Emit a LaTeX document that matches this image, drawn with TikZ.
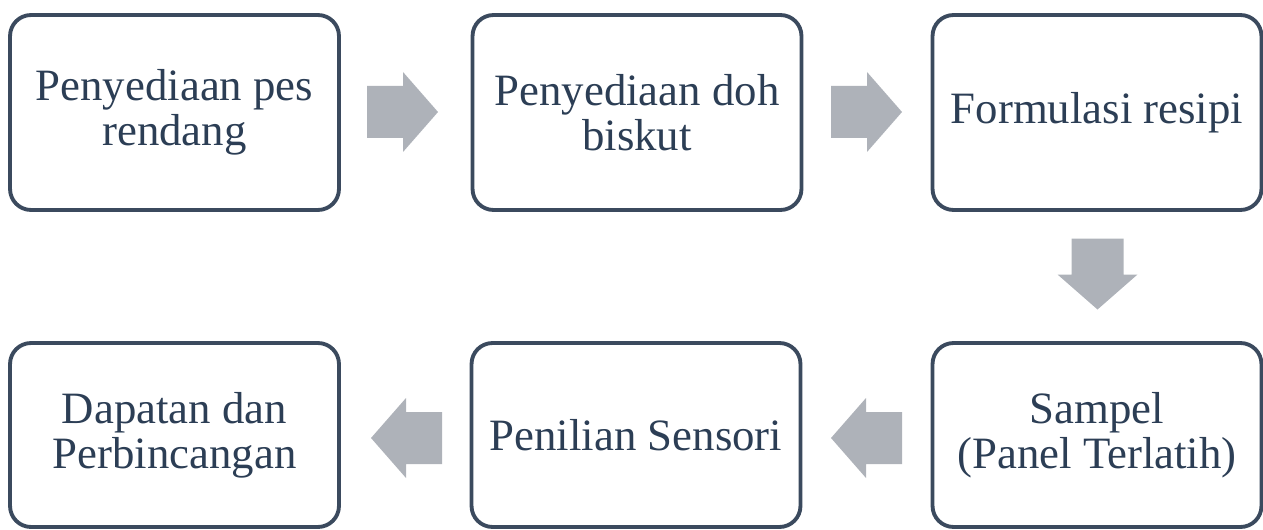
\documentclass[tikz,border=0pt]{standalone}
\usepackage{fontspec}
\setmainfont{Liberation Serif}
\definecolor{boxline}{HTML}{3B4A5E}
\definecolor{boxtext}{HTML}{2C3E55}
\definecolor{arrowgray}{HTML}{AEB2B9}
\tikzset{
  stepbox/.style={draw=boxline, line width=2.2pt, rounded corners=0.42cm, fill=white,
    minimum width=6.58cm, inner sep=0pt, align=center, text=boxtext,
    font=\fontsize{25.5}{25.5}\selectfont},
  toprow/.style={minimum height=3.9cm},
  botrow/.style={minimum height=3.68cm},
  barrow/.pic={\fill[arrowgray] (-35,-26) -- (1,-26) -- (1,-40) -- (36,0) -- (1,40) -- (1,26) -- (-35,26) -- cycle;}
}
\begin{document}
\begin{tikzpicture}[x=0.02cm,y=-0.02cm]
\useasboundingbox (0,0) rectangle (1263,530);
\node[stepbox,toprow] (b1) at (174.5,112.5) {Penyediaan pes\\rendang};
\node[stepbox,toprow] (b2) at (637,112.5) {Penyediaan doh\\biskut};
\node[stepbox,toprow] (b3) at (1097,112.5) {Formulasi resipi};
\node[stepbox,botrow] (b4) at (174.5,435) {Dapatan dan\\Perbincangan};
\node[stepbox,botrow] (b5) at (636,435) {Penilian Sensori};
\node[stepbox,botrow] (b6) at (1097,435) {Sampel\\(Panel Terlatih)};
\pic at (402,112) {barrow};
\pic at (866,112) {barrow};
\pic[rotate=-90] at (1097.5,273.5) {barrow};
\pic[rotate=180] at (867,438) {barrow};
\pic[rotate=180] at (407,438) {barrow};
\end{tikzpicture}
\end{document}
